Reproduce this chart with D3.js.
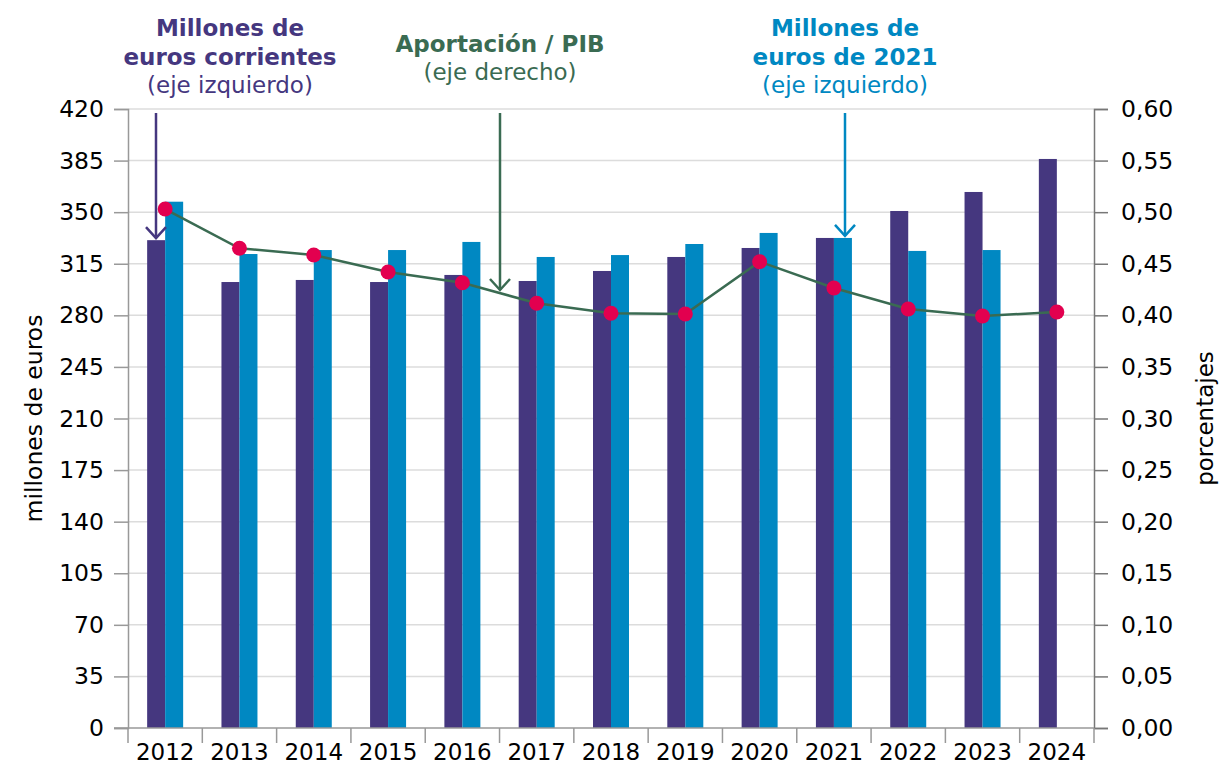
<!DOCTYPE html>
<html>
<head>
<meta charset="utf-8">
<script src="https://cdn.jsdelivr.net/npm/d3@7"></script>
<style>
  body { margin: 0; background: #fff; }
  text { font-family: "DejaVu Sans", Verdana, sans-serif; }
</style>
</head>
<body>
<div id="chart"></div>
<script>
const years = ["2012", "2013", "2014", "2015", "2016", "2017", "2018", "2019", "2020", "2021", "2022", "2023", "2024"];
// millones de euros corrientes
const corrientes = [331, 302.6, 304, 302.6, 307.4, 303.3, 310.1, 319.6, 325.7, 332.5, 350.8, 363.7, 386.1];
// millones de euros de 2021 (2024 sin dato)
const constantes = [357.1, 321.6, 324.3, 324.3, 329.8, 319.6, 320.9, 328.4, 335.9, 332.5, 323.7, 324.3, null];
// aportación / PIB, porcentajes
const ratioPIB = [0.503, 0.465, 0.4585, 0.442, 0.4316, 0.4117, 0.402, 0.4013, 0.452, 0.4265, 0.4061, 0.3994, 0.4032];
const leftTicks = d3.range(0, 421, 35);
const rightTicks = d3.range(0, 0.601, 0.05);

const W = 1219, H = 767;
const margin = { top: 109, right: 125, bottom: 39, left: 128 };
const width = W - margin.left - margin.right;
const height = H - margin.top - margin.bottom;

const purple = "#45377f", blue = "#0088c2", green = "#3a6b52", dot = "#e2004f";
const font = "DejaVu Sans, Verdana, sans-serif";
const tickSize = "23.5px";

const svg = d3.select("#chart").append("svg")
    .attr("width", W)
    .attr("height", H);

const g = svg.append("g")
    .attr("transform", `translate(${margin.left},${margin.top})`);

const x = d3.scaleBand().domain(years).range([0, width]);
const y = d3.scaleLinear().domain([0, 420]).range([height, 0]);
const y2 = d3.scaleLinear().domain([0, 0.6]).range([height, 0]);
const barW = 18;

// gridlines
g.selectAll(".grid")
    .data(leftTicks.slice(1))
    .join("line")
    .attr("x1", 0)
    .attr("x2", width)
    .attr("y1", d => y(d))
    .attr("y2", d => y(d))
    .attr("stroke", "#dcdcdc")
    .attr("stroke-width", 1.5);

// bars
g.selectAll(".barC")
    .data(years)
    .join("rect")
    .attr("x", d => x(d) + x.bandwidth() / 2 - barW)
    .attr("y", (d, i) => y(corrientes[i]))
    .attr("width", barW)
    .attr("height", (d, i) => height - y(corrientes[i]))
    .attr("fill", purple);

g.selectAll(".barK")
    .data(years.filter((d, i) => constantes[i] != null))
    .join("rect")
    .attr("x", d => x(d) + x.bandwidth() / 2)
    .attr("y", d => y(constantes[years.indexOf(d)]))
    .attr("width", barW)
    .attr("height", d => height - y(constantes[years.indexOf(d)]))
    .attr("fill", blue);

// line
const line = d3.line()
    .x((d, i) => x(years[i]) + x.bandwidth() / 2)
    .y(d => y2(d));

g.append("path")
    .datum(ratioPIB)
    .attr("fill", "none")
    .attr("stroke", green)
    .attr("stroke-width", 2.5)
    .attr("d", line);

g.selectAll(".dot")
    .data(ratioPIB)
    .join("circle")
    .attr("cx", (d, i) => x(years[i]) + x.bandwidth() / 2)
    .attr("cy", d => y2(d))
    .attr("r", 7.5)
    .attr("fill", dot);

// left axis
const yAxis = g.append("g")
    .call(d3.axisLeft(y).tickValues(leftTicks).tickSize(14).tickPadding(10));
yAxis.selectAll("text").style("font-size", tickSize).attr("fill", "#000").style("font-family", font);
yAxis.selectAll("line, path").attr("stroke", "#999").attr("stroke-width", 1.5);

// right axis
const fmt = d3.format(".2f");
const y2Axis = g.append("g")
    .attr("transform", `translate(${width},0)`)
    .call(d3.axisRight(y2).tickValues(rightTicks).tickSize(14).tickPadding(13)
        .tickFormat(d => fmt(d).replace(".", ",")));
y2Axis.selectAll("text").style("font-size", tickSize).attr("fill", "#000").style("font-family", font);
y2Axis.selectAll("line, path").attr("stroke", "#777").attr("stroke-width", 1.5);

// x axis: ticks at band edges
const xAxis = g.append("g").attr("transform", `translate(0,${height})`);
xAxis.append("line")
    .attr("x1", -14).attr("x2", width)
    .attr("stroke", "#999").attr("stroke-width", 1.5);
xAxis.selectAll(".xtick")
    .data(years.slice(1).concat(["end"]))
    .join("line")
    .attr("x1", (d, i) => i < years.length - 1 ? x(d) : width)
    .attr("x2", (d, i) => i < years.length - 1 ? x(d) : width)
    .attr("y1", 0)
    .attr("y2", 15)
    .attr("stroke", "#999").attr("stroke-width", 1.5);
xAxis.append("line").attr("x1", 0).attr("x2", 0).attr("y1", 0).attr("y2", 15)
    .attr("stroke", "#999").attr("stroke-width", 1.5);
xAxis.selectAll(".xlab")
    .data(years)
    .join("text")
    .attr("x", d => x(d) + x.bandwidth() / 2)
    .attr("y", 32)
    .attr("text-anchor", "middle")
    .style("font-size", "23px")
    .attr("fill", "#000")
    .text(d => d);

// axis titles
svg.append("text")
    .attr("transform", `translate(42,${margin.top + height / 2}) rotate(-90)`)
    .attr("text-anchor", "middle")
    .style("font-size", "23.5px")
    .text("millones de euros");

svg.append("text")
    .attr("transform", `translate(1213,${margin.top + height / 2}) rotate(-90)`)
    .attr("text-anchor", "middle")
    .style("font-size", "23px")
    .text("porcentajes");

// annotations with arrows
function annotate(lines, cx, color, arrowX, arrowEnd) {
    const t = svg.append("text").attr("text-anchor", "middle").attr("fill", color);
    lines.forEach(l => {
        t.append("tspan")
            .attr("x", cx)
            .attr("y", l.y)
            .style("font-size", "23px")
            .style("font-weight", l.bold ? "bold" : "normal")
            .text(l.text);
    });
    svg.append("line")
        .attr("x1", arrowX).attr("x2", arrowX)
        .attr("y1", 113).attr("y2", arrowEnd)
        .attr("stroke", color).attr("stroke-width", 2.5);
    svg.append("path")
        .attr("d", `M${arrowX - 10},${arrowEnd - 11} L${arrowX},${arrowEnd} L${arrowX + 10},${arrowEnd - 11}`)
        .attr("fill", "none")
        .attr("stroke", color)
        .attr("stroke-width", 2.5);
}

annotate([
    { text: "Millones de", y: 36, bold: true },
    { text: "euros corrientes", y: 65, bold: true },
    { text: "(eje izquierdo)", y: 93, bold: false }
], 230, purple, 156, y(corrientes[0]) + margin.top - 2);

annotate([
    { text: "Aportación / PIB", y: 52, bold: true },
    { text: "(eje derecho)", y: 80, bold: false }
], 500, green, 500, 290);

annotate([
    { text: "Millones de", y: 36, bold: true },
    { text: "euros de 2021", y: 65, bold: true },
    { text: "(eje izquierdo)", y: 93, bold: false }
], 845, blue, 845, y(constantes[9]) + margin.top - 2);
</script>
</body>
</html>
